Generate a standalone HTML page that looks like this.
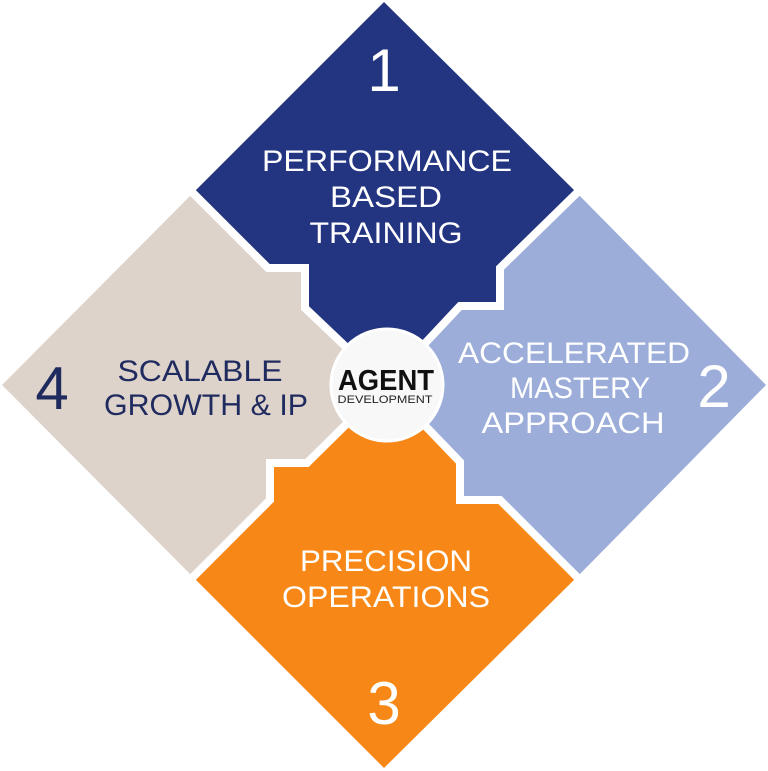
<!DOCTYPE html>
<html><head><meta charset="utf-8"><style>
html,body{margin:0;padding:0;background:#fff;}
svg{display:block;}
text{font-family:"Liberation Sans",sans-serif;}
</style></head><body>
<svg width="768" height="771" viewBox="0 0 768 771" xmlns="http://www.w3.org/2000/svg">
<polygon fill="#233480" points="384,2 577,193 500,268 500,306 460,306 386,385 305,308 305,268 268,268 193,193"/>
<polygon fill="#9badd8" points="577,193 766,385 577,577 500,500 460,500 460,462 386,385 460,306 500,306 500,268"/>
<polygon fill="#f78817" points="577,577 384,768 193,577 270,500 270,463 307,463 386,385 460,462 460,500 500,500"/>
<polygon fill="#ddd3cb" points="193,577 2,385 193,193 268,268 305,268 305,308 386,385 307,463 270,463 270,500"/>
<g fill="none" stroke="#fff" stroke-width="8" stroke-linejoin="miter">
<polyline points="183,183 268,268 305,268 305,308 386,385"/>
<polyline points="587,183 500,268 500,306 460,306 386,385"/>
<polyline points="587,587 500,500 460,500 460,462 386,385"/>
<polyline points="183,587 270,500 270,463 307,463 386,385"/>
</g>
<circle cx="387" cy="385" r="56" fill="#f8f8f8" stroke="#fff" stroke-width="3"/>
<text x="386" y="390" text-anchor="middle" font-size="29" font-weight="bold" fill="#111" textLength="96" lengthAdjust="spacingAndGlyphs">AGENT</text>
<text x="385" y="403" text-anchor="middle" font-size="11" fill="#222" textLength="95" lengthAdjust="spacingAndGlyphs">DEVELOPMENT</text>
<g fill="#fff" font-size="30">
<text x="384" y="91" text-anchor="middle" font-size="60">1</text>
<text x="387" y="171" text-anchor="middle" textLength="250" lengthAdjust="spacingAndGlyphs">PERFORMANCE</text>
<text x="386" y="207" text-anchor="middle" textLength="112" lengthAdjust="spacingAndGlyphs">BASED</text>
<text x="386" y="243" text-anchor="middle" textLength="153" lengthAdjust="spacingAndGlyphs">TRAINING</text>
<text x="574" y="363" text-anchor="middle" textLength="232" lengthAdjust="spacingAndGlyphs">ACCELERATED</text>
<text x="580" y="398" text-anchor="middle" textLength="140" lengthAdjust="spacingAndGlyphs">MASTERY</text>
<text x="573" y="433" text-anchor="middle" textLength="183" lengthAdjust="spacingAndGlyphs">APPROACH</text>
<text x="714" y="407" text-anchor="middle" font-size="60">2</text>
<text x="386" y="571" text-anchor="middle" textLength="172" lengthAdjust="spacingAndGlyphs">PRECISION</text>
<text x="386" y="607" text-anchor="middle" textLength="208" lengthAdjust="spacingAndGlyphs">OPERATIONS</text>
<text x="384" y="724" text-anchor="middle" font-size="60">3</text>
</g>
<g fill="#1f2a5e" font-size="30">
<text x="52" y="409" text-anchor="middle" font-size="60">4</text>
<text x="200" y="381" text-anchor="middle" textLength="165" lengthAdjust="spacingAndGlyphs">SCALABLE</text>
<text x="206" y="415" text-anchor="middle" textLength="204" lengthAdjust="spacingAndGlyphs">GROWTH &amp; IP</text>
</g>
</svg>
</body></html>
